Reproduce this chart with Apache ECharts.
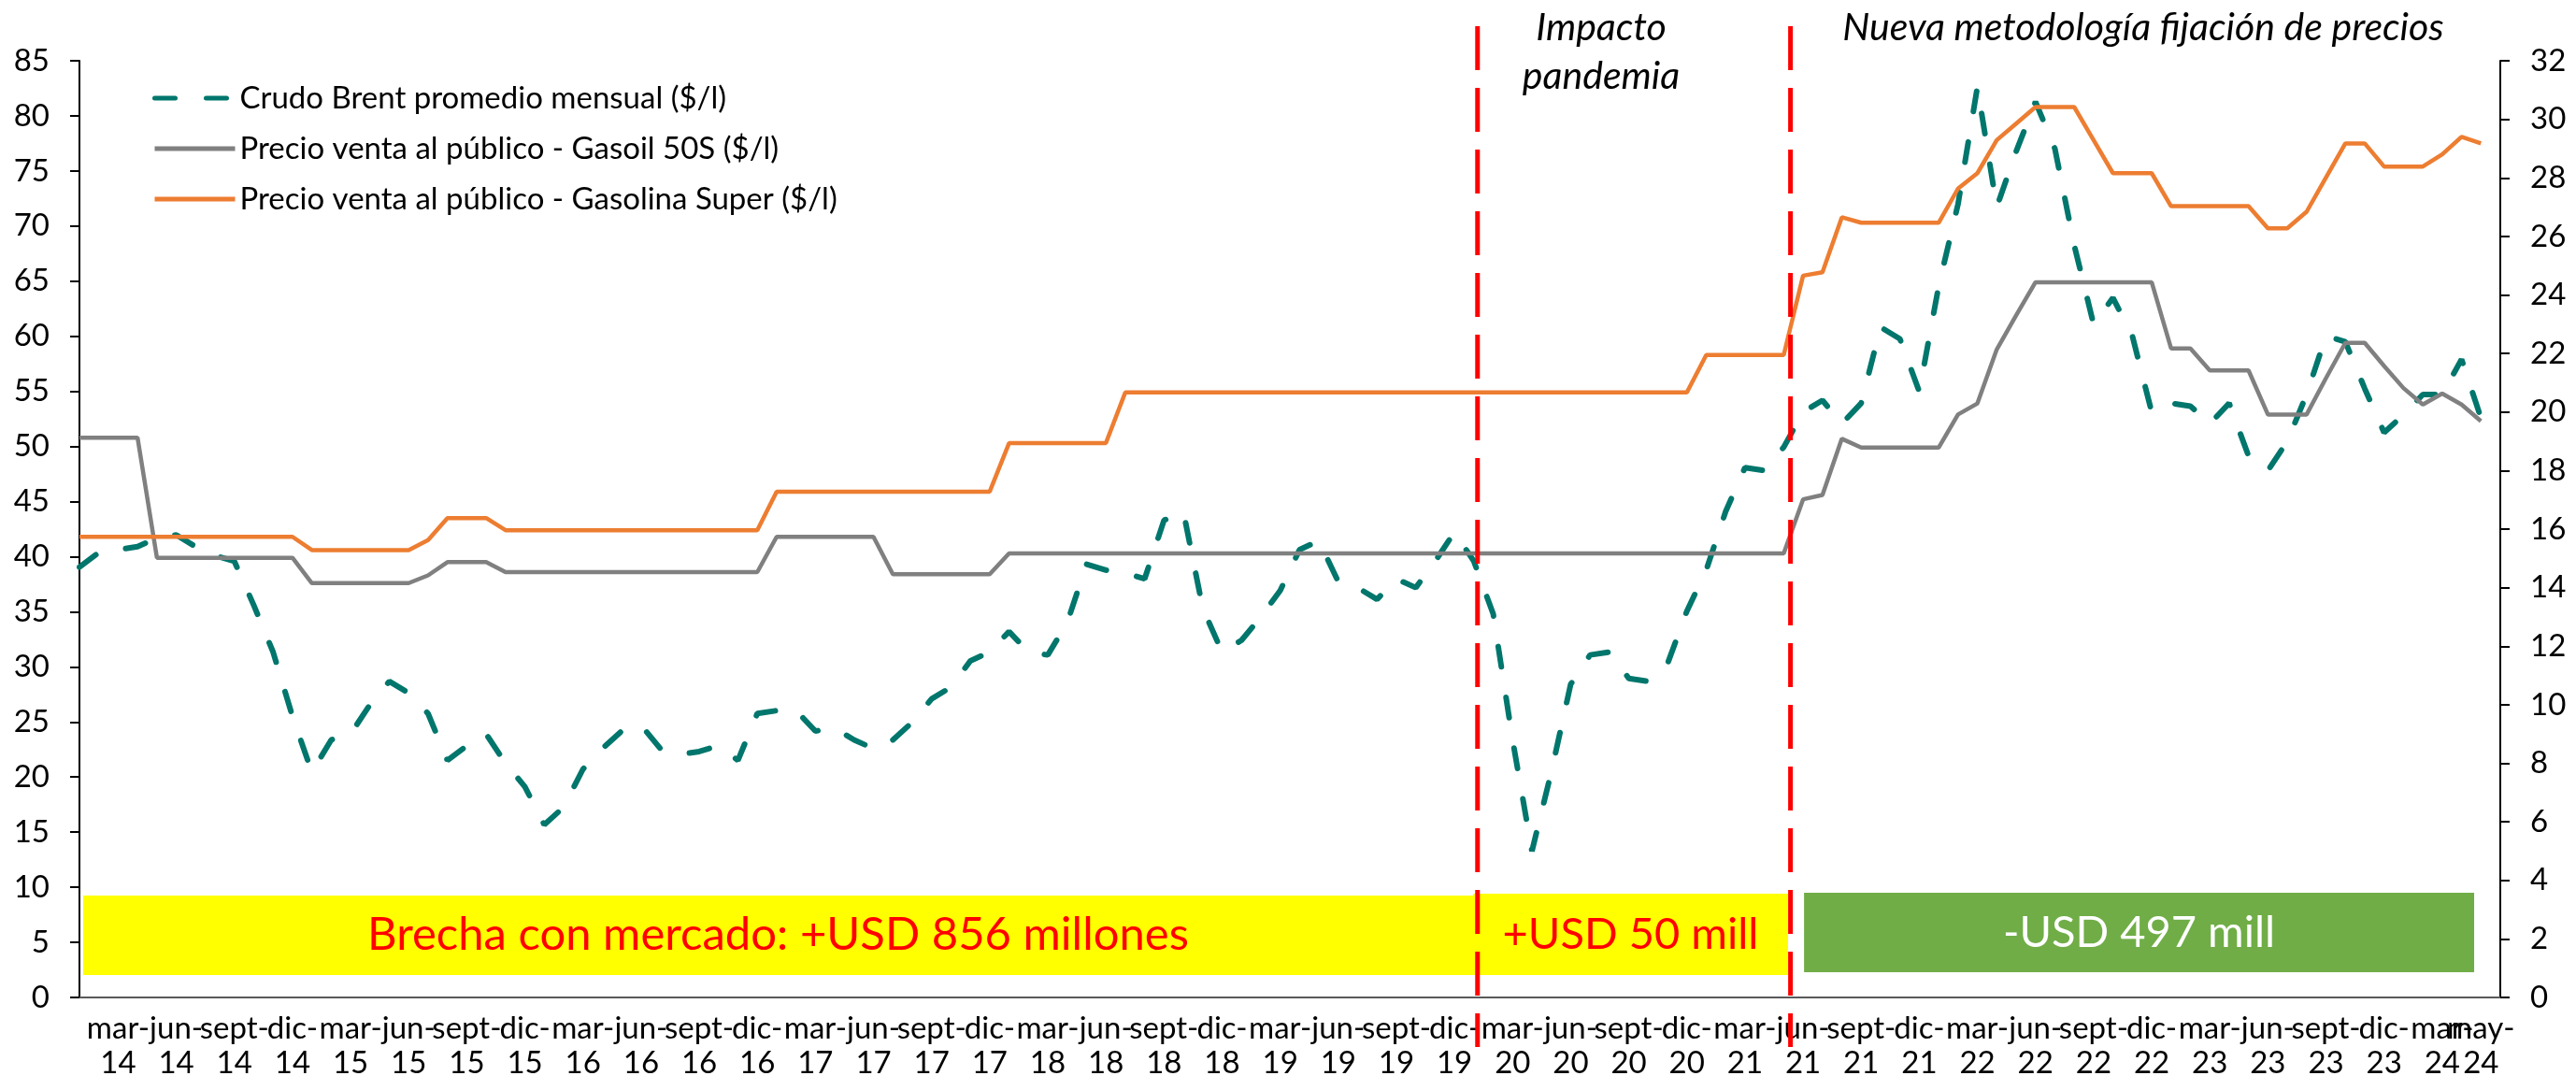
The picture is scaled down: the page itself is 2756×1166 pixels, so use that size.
<!DOCTYPE html>
<html><head><meta charset="utf-8">
<script src="https://cdn.jsdelivr.net/npm/echarts/dist/echarts.min.js"></script>
<style>html,body{margin:0;padding:0;background:#fff;}#c{width:2756px;height:1166px;}</style>
</head><body><div id="c"></div>
<script>
// Monthly categories ene-14 ... jun-24 (last slot empty, data ends may-24)
const monthNames = ['ene','feb','mar','abr','may','jun','jul','ago','sept','oct','nov','dic'];
const years = ['14','15','16','17','18','19','20','21','22','23','24'];
const categories = [];
years.forEach(y => monthNames.forEach((m, k) => { if (!(y === '24' && k > 5)) categories.push(m + '-' + y); }));

const tickLabels = ['mar-14','jun-14','sept-14','dic-14','mar-15','jun-15','sept-15','dic-15',
  'mar-16','jun-16','sept-16','dic-16','mar-17','jun-17','sept-17','dic-17','mar-18','jun-18','sept-18','dic-18',
  'mar-19','jun-19','sept-19','dic-19','mar-20','jun-20','sept-20','dic-20','mar-21','jun-21','sept-21','dic-21',
  'mar-22','jun-22','sept-22','dic-22','mar-23','jun-23','sept-23','dic-23','mar-24','may-24'];

const seriesNames = ['Crudo Brent promedio mensual ($/l)','Precio venta al público - Gasoil 50S ($/l)','Precio venta al público - Gasolina Super ($/l)'];

// Brent (right axis, $/l), ene-14 .. may-24
const brent = [
  14.7,15.2,15.3,15.4,15.7,15.8,15.4,15.1,14.9,13.4,11.8,9.6,
  7.7,8.8,9.0,10.0,10.8,10.4,9.7,8.1,8.6,9.0,8.0,7.2,
  5.9,6.5,7.8,8.5,9.1,9.3,8.5,8.3,8.4,8.6,8.1,9.7,
  9.8,9.8,9.1,9.2,8.8,8.5,8.8,9.4,10.2,10.6,11.5,11.8,
  12.5,11.8,11.7,12.8,14.8,14.6,14.5,14.3,16.3,16.6,13.3,11.8,
  12.2,13.0,13.9,15.3,15.6,14.2,14.0,13.6,14.3,14.0,14.9,15.9,
  14.9,13.1,8.8,5.0,7.7,10.7,11.7,11.8,10.9,10.8,11.4,13.2,
  14.6,16.6,18.1,18.0,18.8,20.0,20.4,19.6,20.3,22.9,22.5,20.7,
  24.3,27.1,31.1,27.0,28.9,30.6,29.0,25.7,23.0,23.9,22.6,20.0,
  20.3,20.2,19.6,20.3,18.5,18.0,19.0,20.6,22.6,22.4,20.8,19.3,
  19.9,20.6,20.6,21.8,19.8
];
// Gasoil 50S (left axis)
const gasoil = [
  50.8,50.8,50.8,50.8,39.9,39.9,39.9,39.9,39.9,39.9,39.9,39.9,
  37.6,37.6,37.6,37.6,37.6,37.6,38.3,39.5,39.5,39.5,38.6,38.6,
  38.6,38.6,38.6,38.6,38.6,38.6,38.6,38.6,38.6,38.6,38.6,38.6,
  41.8,41.8,41.8,41.8,41.8,41.8,38.4,38.4,38.4,38.4,38.4,38.4,
  40.3,40.3,40.3,40.3,40.3,40.3,40.3,40.3,40.3,40.3,40.3,40.3,
  40.3,40.3,40.3,40.3,40.3,40.3,40.3,40.3,40.3,40.3,40.3,40.3,
  40.3,40.3,40.3,40.3,40.3,40.3,40.3,40.3,40.3,40.3,40.3,40.3,
  40.3,40.3,40.3,40.3,40.3,45.2,45.6,50.7,49.9,49.9,49.9,49.9,
  49.9,52.9,53.9,58.8,61.9,64.9,64.9,64.9,64.9,64.9,64.9,64.9,
  58.9,58.9,56.9,56.9,56.9,52.9,52.9,52.9,56.2,59.4,59.4,57.3,
  55.3,53.8,54.8,53.8,52.3
];
// Gasolina Super (left axis)
const gasolina = [
  41.8,41.8,41.8,41.8,41.8,41.8,41.8,41.8,41.8,41.8,41.8,41.8,
  40.6,40.6,40.6,40.6,40.6,40.6,41.5,43.5,43.5,43.5,42.4,42.4,
  42.4,42.4,42.4,42.4,42.4,42.4,42.4,42.4,42.4,42.4,42.4,42.4,
  45.9,45.9,45.9,45.9,45.9,45.9,45.9,45.9,45.9,45.9,45.9,45.9,
  50.3,50.3,50.3,50.3,50.3,50.3,54.9,54.9,54.9,54.9,54.9,54.9,
  54.9,54.9,54.9,54.9,54.9,54.9,54.9,54.9,54.9,54.9,54.9,54.9,
  54.9,54.9,54.9,54.9,54.9,54.9,54.9,54.9,54.9,54.9,54.9,54.9,
  58.3,58.3,58.3,58.3,58.3,65.5,65.8,70.8,70.3,70.3,70.3,70.3,
  70.3,73.4,74.8,77.8,79.3,80.8,80.8,80.8,77.8,74.8,74.8,74.8,
  71.8,71.8,71.8,71.8,71.8,69.8,69.8,71.3,74.4,77.5,77.5,75.4,
  75.4,75.4,76.5,78.1,77.5
];

// Annotations (x in month index, y in left-axis units)
const boxLabels = ['Brecha con mercado: +USD 856 millones', '+USD 50 mill', '-USD 497 mill'];
const boxX = [[0.19, 71.96], [71.96, 88.22], [89.05, 123.65]];
const boxY = [[2.04, 9.25], [2.04, 9.41], [2.29, 9.5]];
const redLinesAt = [72.19, 88.35];

const FONT = 'Lato';
const pairs = arr => arr.map((v, i) => [i, v]);

const chart = echarts.init(document.getElementById('c'), null, {renderer: 'canvas'});
const boxColors = ['#FFFF00', '#FFFF00', '#70AD47'];
const boxText = ['#FF0000', '#FF0000', '#FFFFFF'];
const boxFont = [49, 47, 47];

const option = {
  animation: false,
  backgroundColor: '#fff',
  textStyle: {fontFamily: FONT},
  grid: {left: 85, right: 81, top: 65, bottom: 99, containLabel: false, outerBoundsMode: 'none'},
  legend: {
    orient: 'vertical', left: 158, top: 81,
    itemWidth: 86, itemHeight: 20, itemGap: 16,
    textStyle: {fontSize: 33, color: '#000', fontFamily: FONT, lineHeight: 38},
    lineStyle: {width: 5},
    itemStyle: {opacity: 0, borderWidth: 0},
    data: seriesNames
  },
  xAxis: {
    type: 'value', min: 0, max: categories.length - 1, interval: 1,
    axisLine: {show: true, onZero: false, lineStyle: {color: '#595959', width: 2}},
    axisTick: {show: false}, splitLine: {show: false},
    axisLabel: {
      show: true, fontSize: 33, color: '#000', fontFamily: FONT, lineHeight: 37, margin: 15,
      showMinLabel: true, showMaxLabel: true,
      formatter: v => {
        const c = categories[Math.round(v)];
        if (!c || tickLabels.indexOf(c) < 0) return '';
        const p = c.split('-');
        return p[0] + '-\n' + p[1];
      }
    }
  },
  yAxis: [
    {type: 'value', min: 0, max: 85, interval: 5, position: 'left',
     axisLine: {show: true, lineStyle: {color: '#000', width: 2}},
     axisTick: {show: true, inside: false, length: 10, lineStyle: {color: '#000', width: 2}},
     splitLine: {show: false},
     axisLabel: {fontSize: 33, color: '#000', fontFamily: FONT, margin: 32}},
    {type: 'value', min: 0, max: 32, interval: 2, position: 'right',
     axisLine: {show: true, lineStyle: {color: '#000', width: 2}},
     axisTick: {show: true, inside: false, length: 10, lineStyle: {color: '#000', width: 2}},
     splitLine: {show: false},
     axisLabel: {fontSize: 33, color: '#000', fontFamily: FONT, margin: 32}}
  ],
  series: [
    {name: seriesNames[0], type: 'line', yAxisIndex: 1, symbol: 'none', data: pairs(brent),
     lineStyle: {color: '#00766C', width: 6, type: [22, 33], cap: 'round'}, itemStyle: {color: '#00766C'}, z: 3},
    {name: seriesNames[1], type: 'line', yAxisIndex: 0, symbol: 'none', data: pairs(gasoil),
     lineStyle: {color: '#808080', width: 4.5}, itemStyle: {color: '#808080'}, z: 4,
     markArea: {
       silent: true,
       label: {show: true, position: 'inside', fontFamily: FONT, formatter: '{b}'},
       data: boxLabels.map((t, k) => [
         {name: t, xAxis: boxX[k][0], yAxis: boxY[k][1],
          itemStyle: {color: boxColors[k], opacity: 1},
          label: {color: boxText[k], fontSize: boxFont[k], fontFamily: FONT}},
         {xAxis: boxX[k][1], yAxis: boxY[k][0]}
       ])
     }},
    {name: seriesNames[2], type: 'line', yAxisIndex: 0, symbol: 'none', data: pairs(gasolina),
     lineStyle: {color: '#ED7D31', width: 4.5}, itemStyle: {color: '#ED7D31'}, z: 5}
  ]
};
chart.setOption(option);

const gfx = redLinesAt.map(v => {
  const x = chart.convertToPixel({xAxisIndex: 0}, v);
  return {type: 'line', z: 100, silent: true,
    shape: {x1: x, y1: 28, x2: x, y2: 1120},
    style: {stroke: '#FF0000', lineWidth: 5, lineDash: [47, 19]}};
});
gfx.push({type: 'text', z: 100, silent: true, style: {x: 1713, y: 4, text: 'Impacto\npandemia',
  fontFamily: FONT, fontStyle: 'italic', fontSize: 41, lineHeight: 52, align: 'center', verticalAlign: 'top', fill: '#000'}});
gfx.push({type: 'text', z: 100, silent: true, style: {x: 2293, y: 4, text: 'Nueva metodología fijación de precios',
  fontFamily: FONT, fontStyle: 'italic', fontSize: 41, lineHeight: 52, align: 'center', verticalAlign: 'top', fill: '#000'}});
chart.setOption({graphic: gfx});
</script></body></html>
